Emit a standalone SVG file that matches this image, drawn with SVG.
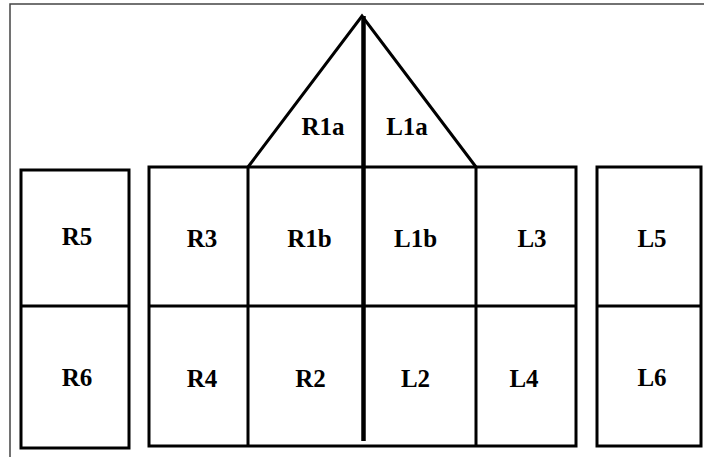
<svg xmlns="http://www.w3.org/2000/svg" width="704" height="457" viewBox="0 0 704 457">
<style>
.b{fill:none;stroke:#000;stroke-width:3}
.t{font-family:"Liberation Serif","Times New Roman",serif;font-weight:bold;font-size:25px;text-anchor:middle;fill:#000}
</style>
<rect width="704" height="457" fill="#fff"/>
<path d="M10 457V4H704" fill="none" stroke="#444" stroke-width="1.5"/>
<g id="connectors">
<line x1="363.5" y1="16" x2="363.5" y2="441" stroke="#000" stroke-width="4.5"/>
</g>
<g id="roof">
<polyline class="b" points="248,167 362,16 476,167"/>
</g>
<g id="R1a"><text class="t" x="323" y="135">R1a</text></g>
<g id="L1a"><text class="t" x="407" y="135">L1a</text></g>
<g id="leftbox">
<rect class="b" x="21" y="170" width="108" height="278"/>
<line class="b" x1="21" y1="306" x2="129" y2="306"/>
</g>
<g id="R5"><text class="t" x="77" y="245">R5</text></g>
<g id="R6"><text class="t" x="77" y="386">R6</text></g>
<g id="mainbox">
<rect class="b" x="149" y="167" width="427" height="279"/>
<line class="b" x1="149" y1="306" x2="576" y2="306"/>
<line class="b" x1="248" y1="167" x2="248" y2="446"/>
<line class="b" x1="476" y1="167" x2="476" y2="446"/>
</g>
<g id="R3"><text class="t" x="202" y="247">R3</text></g>
<g id="R1b"><text class="t" x="309.5" y="247">R1b</text></g>
<g id="L1b"><text class="t" x="415.5" y="247">L1b</text></g>
<g id="L3"><text class="t" x="532" y="247">L3</text></g>
<g id="R4"><text class="t" x="202" y="387">R4</text></g>
<g id="R2"><text class="t" x="310.5" y="387">R2</text></g>
<g id="L2"><text class="t" x="415.5" y="387">L2</text></g>
<g id="L4"><text class="t" x="524" y="387">L4</text></g>
<g id="rightbox">
<rect class="b" x="597" y="167" width="104" height="279"/>
<line class="b" x1="597" y1="306" x2="701" y2="306"/>
</g>
<g id="L5"><text class="t" x="652" y="247">L5</text></g>
<g id="L6"><text class="t" x="652" y="386">L6</text></g>
</svg>
